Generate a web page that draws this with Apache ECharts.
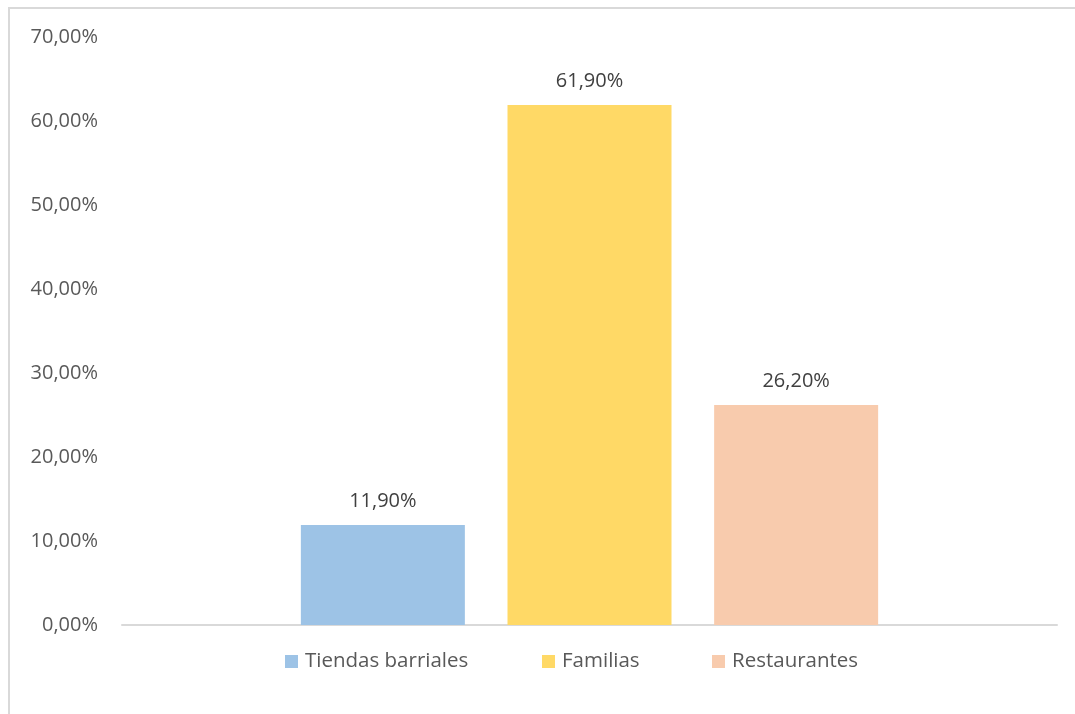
<!DOCTYPE html>
<html>
<head>
<meta charset="utf-8">
<script src="https://cdn.jsdelivr.net/npm/echarts@6/dist/echarts.min.js"></script>
<style>
  html, body { margin: 0; padding: 0; background: #ffffff; }
  #frame { position: absolute; left: 8px; top: 7px; width: 1100px; height: 740px; border: 2px solid #d9d9d9; box-sizing: border-box; }
  #chart { position: absolute; left: 0; top: 0; width: 1075px; height: 714px; }
</style>
</head>
<body>
<div id="frame"></div>
<div id="chart"></div>
<script>
// Distribución por tipo de cliente
const categories = [''];
const seriesNames = ['Tiendas barriales', 'Familias', 'Restaurantes'];
const seriesValues = [[11.9], [61.9], [26.2]];
const seriesColors = ['#9DC3E6', '#FFD966', '#F8CBAD'];
const yTicks = { min: 0, max: 70, interval: 10 };

const fmt = v => v.toFixed(2).replace('.', ',') + '%';
const FONT = '"Open Sans", "Liberation Sans", sans-serif';
const legendLefts = [280, 537, 707];

const chart = echarts.init(document.getElementById('chart'), null, { renderer: 'canvas' });
chart.setOption({
  animation: false,
  backgroundColor: 'transparent',
  textStyle: { fontFamily: FONT },
  grid: { left: 122, right: 18, top: 37, bottom: 89, containLabel: false },
  legend: seriesNames.map((name, i) => ({
    top: 646,
    left: legendLefts[i],
    itemWidth: 13,
    itemHeight: 13,
    itemGap: 0,
    icon: 'rect',
    textStyle: { fontSize: 20.5, color: '#595959', fontFamily: FONT, padding: [0, 0, 0, 2] },
    data: [name]
  })),
  xAxis: {
    type: 'category',
    data: categories,
    axisLine: { lineStyle: { color: '#d9d9d9', width: 2 } },
    axisTick: { show: false },
    axisLabel: { show: false }
  },
  yAxis: {
    type: 'value',
    min: yTicks.min,
    max: yTicks.max,
    interval: yTicks.interval,
    axisLine: { show: false },
    axisTick: { show: false },
    splitLine: { show: false },
    axisLabel: {
      margin: 24,
      fontSize: 20,
      color: '#595959',
      fontFamily: FONT,
      formatter: v => fmt(v)
    }
  },
  series: seriesNames.map((name, i) => ({
    name,
    type: 'bar',
    data: seriesValues[i],
    barWidth: 164,
    barGap: '26%',
    barCategoryGap: '38%',
    itemStyle: { color: seriesColors[i] },
    label: {
      show: true,
      position: 'top',
      distance: 14,
      fontSize: 20,
      color: '#404040',
      fontFamily: FONT,
      formatter: p => fmt(p.value)
    }
  }))
});
</script>
</body>
</html>
